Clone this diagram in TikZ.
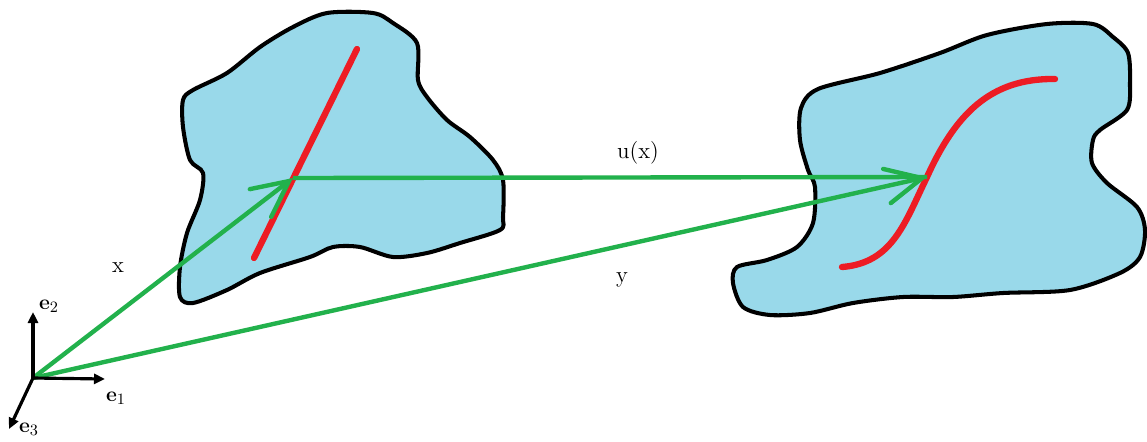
\documentclass[tikz,border=0pt]{standalone}
\usepackage{xcolor}
\usepackage{tikz}
\usetikzlibrary{positioning,arrows.meta}

\definecolor{bodyblue}{RGB}{153,217,234}
\definecolor{paintgreen}{RGB}{34,177,76}
\definecolor{paintred}{RGB}{237,28,36}

\begin{document}
\begin{tikzpicture}[x=0.02cm, y=-0.02cm,
    body/.style={draw=black, line width=2.3pt, fill=bodyblue, line join=round},
    fibre/.style={draw=paintred, line width=3.6pt, line cap=round},
    vec/.style={draw=paintgreen, line width=2.5pt},
    vechead/.style={-{Straight Barb[length=0.72cm, width=0.7cm, line cap=round]}},
    axis/.style={draw=black, line width=1.8pt, -{Triangle[length=0.22cm, width=0.2cm]}},
    lbl/.style={font=\fontsize{13}{15}\selectfont}]
    \useasboundingbox (0,0) rectangle (1147,441);

    % reference body
    \draw[body] plot[smooth cycle, tension=0.5] coordinates {
        (327,13) (373,13) (393,23) (417,43) (418,80) (427,97) (447,120)
        (470,137) (493,160) (503,180) (503,217) (500,230) (460,243)
        (427,253) (393,257) (360,247) (333,247) (310,257) (260,273)
        (227,290) (193,303) (180,297) (180,267) (187,233) (200,200)
        (203,173) (190,160) (183,127) (183,100) (193,90) (227,73)
        (260,47) (293,27)};

    % deformed body
    \draw[body] plot[smooth cycle, tension=0.5] coordinates {
        (818,89) (880,73) (940,53) (987,35) (1047,24) (1093,24) (1113,37)
        (1128,53) (1130,83) (1127,110) (1100,130) (1093,140) (1092,163)
        (1107,183) (1137,207) (1145,230) (1140,257) (1120,273) (1070,290)
        (1003,293) (953,297) (903,297) (853,303) (810,313) (770,315)
        (743,307) (733,283) (737,267) (767,260) (797,247) (813,223)
        (815,187) (808,170) (800,140) (801,108)};

    % material fibre before and after
    \coordinate (fa) at (357,49);
    \coordinate (fb) at (254,258);
    \coordinate (ga) at (842,267);
    \coordinate (gb) at (1055,79);
    \draw[fibre] (fa) -- (fb);
    \draw[fibre] (ga) .. controls (893,263) and (905,222) .. (927,177)
        .. controls (955,115) and (990,78) .. (gb);

    % points
    \coordinate (O) at (33,378);
    \coordinate (P) at (293,178);
    \coordinate (Q) at (927,177);

    \draw[vec] (P) -- (Q);
    \draw[vec, vechead] (O) -- (Q);
    \draw[vec, vechead] (O) -- (P);

    \node[lbl] (xlbl) at (118,268) {x};
    \node[lbl] (ulbl) at (638,153) {u(x)};
    \node[lbl] (ylbl) at (622,280) {y};

    % basis
    \coordinate (e1tip) at (105,379);
    \coordinate (e2tip) at (33,312);
    \coordinate (e3tip) at (9,429);
    \draw[axis] (O) -- (e1tip);
    \draw[axis] (O) -- (e2tip);
    \draw[axis] (O) -- (e3tip);
    \node[lbl] (e1lbl) at (116,398) {$\mathbf{e}_1$};
    \node[lbl] (e2lbl) at (49,306) {$\mathbf{e}_2$};
    \node[lbl] (e3lbl) at (29,429) {$\mathbf{e}_3$};
\end{tikzpicture}
\end{document}
